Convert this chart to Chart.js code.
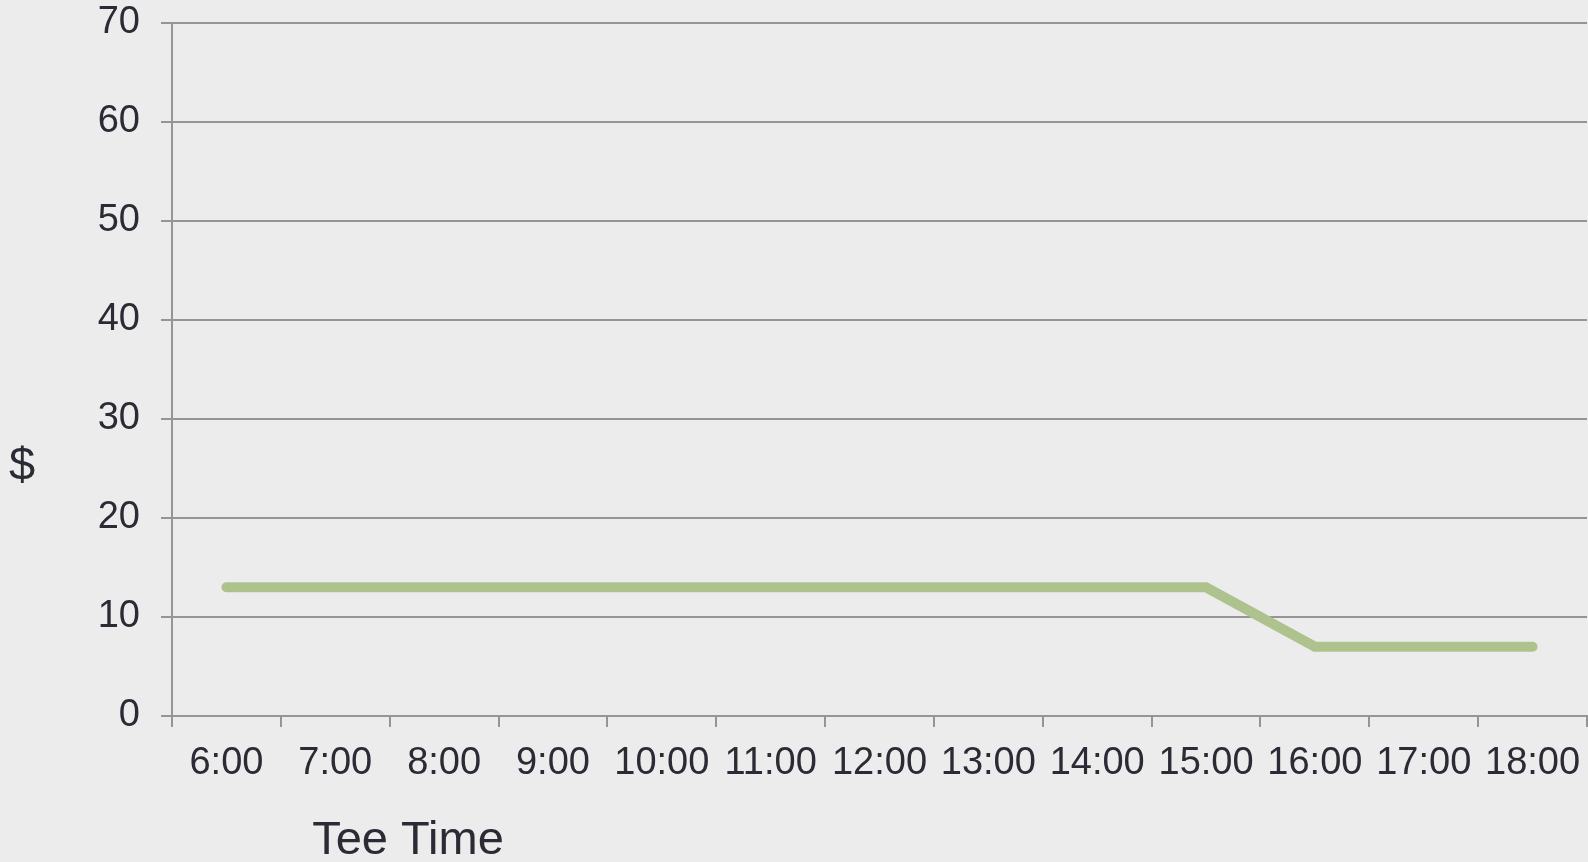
<!DOCTYPE html>
<html>
<head>
<meta charset="utf-8">
<script src="https://cdn.jsdelivr.net/npm/chart.js@4/dist/chart.umd.min.js"></script>
<style>
  html, body { margin: 0; padding: 0; background: #ececec; }
  #wrap { width: 1588px; height: 862px; }
</style>
</head>
<body>
<div id="wrap"><canvas id="teeChart"></canvas></div>
<script>
const teeTimes = ["6:00", "7:00", "8:00", "9:00", "10:00", "11:00", "12:00", "13:00", "14:00", "15:00", "16:00", "17:00", "18:00"];
const prices = [13, 13, 13, 13, 13, 13, 13, 13, 13, 13, 7, 7, 7];
const xTitle = "Tee Time";
const yTitle = "$";

const textColor = "#2b2b36";
const gridColor = "#959595";
const fontFamily = "'Liberation Sans', Arial, sans-serif";

// axis titles are drawn by hand: "$" stands upright and "Tee Time" sits off-centre
const axisTitles = {
  id: "axisTitles",
  afterDraw(chart) {
    const ctx = chart.ctx;
    const area = chart.chartArea;
    ctx.save();
    ctx.fillStyle = textColor;
    ctx.font = "47px " + fontFamily;
    ctx.textAlign = "center";
    ctx.textBaseline = "alphabetic";
    ctx.fillText(xTitle, area.left + 236, 854);
    ctx.fillText(yTitle, 22, 480);
    ctx.restore();
  }
};

new Chart(document.getElementById("teeChart").getContext("2d"), {
  type: "line",
  data: {
    labels: teeTimes,
    datasets: [{
      label: "Price",
      data: prices,
      borderColor: "#adc28d",
      borderWidth: 10,
      borderCapStyle: "round",
      pointRadius: 0,
      tension: 0,
      fill: false
    }]
  },
  options: {
    responsive: true,
    maintainAspectRatio: false,
    animation: false,
    layout: { autoPadding: false, padding: { top: 23, right: 1, left: 0, bottom: 0 } },
    plugins: {
      legend: { display: false },
      tooltip: { enabled: false }
    },
    scales: {
      x: {
        offset: true,
        grid: {
          offset: true,
          drawOnChartArea: false,
          drawTicks: true,
          tickLength: 11,
          color: gridColor,
          lineWidth: 2
        },
        border: { color: gridColor, width: 2 },
        ticks: {
          color: textColor,
          padding: 14,
          maxRotation: 0,
          autoSkip: false,
          font: { family: fontFamily, size: 38 }
        },
        afterFit(scale) {
          scale.height = 146;
          scale.paddingLeft = 0;
          scale.paddingRight = 0;
        }
      },
      y: {
        min: 0,
        max: 70,
        ticks: {
          stepSize: 10,
          color: textColor,
          padding: 21,
          font: { family: fontFamily, size: 38 }
        },
        grid: {
          color: gridColor,
          lineWidth: 2,
          tickLength: 11
        },
        border: { color: gridColor, width: 2 },
        afterFit(scale) {
          scale.width = 172;
          scale.paddingTop = 0;
          scale.paddingBottom = 0;
        }
      }
    }
  },
  plugins: [axisTitles]
});
</script>
</body>
</html>
